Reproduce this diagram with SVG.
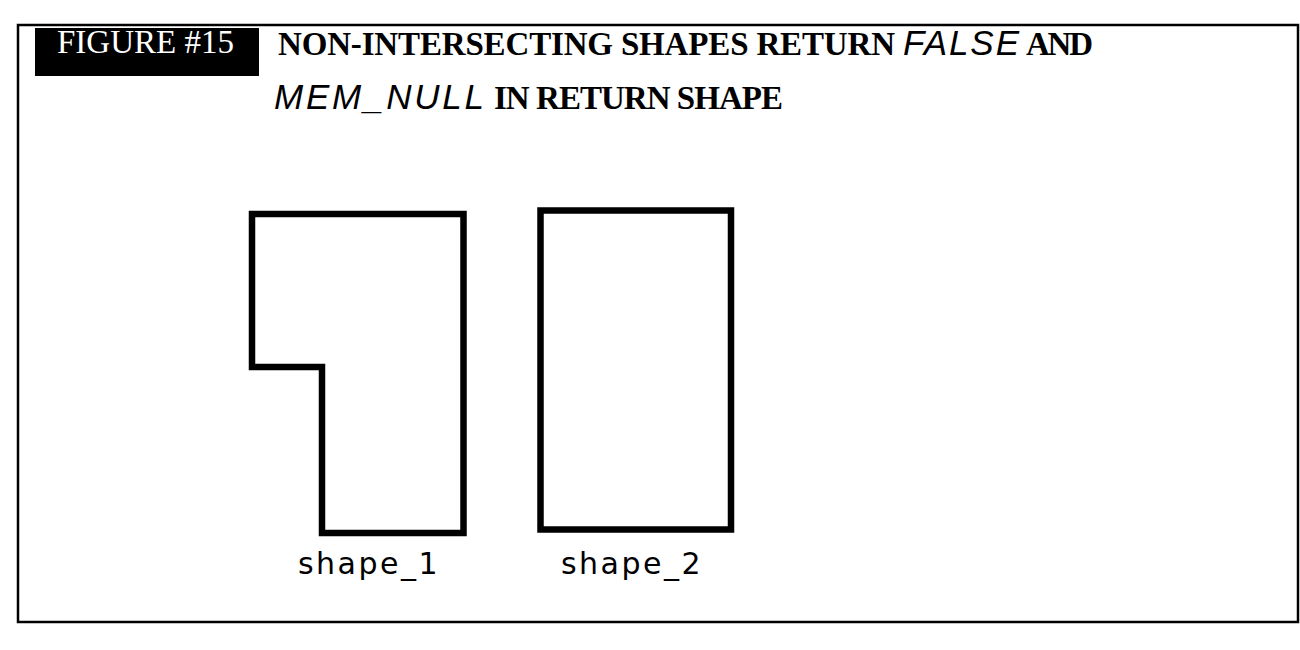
<svg xmlns="http://www.w3.org/2000/svg" width="1300" height="650" viewBox="0 0 1300 650">
<style>
.serif{font-family:"Liberation Serif","Times New Roman",serif;}
.bold{font-weight:bold;font-size:33px;fill:#000;}
.ital{font-family:"Liberation Sans",Arial,sans-serif;font-style:italic;font-size:35px;fill:#000;}
.lbl{font-family:"DejaVu Sans",sans-serif;font-size:30px;letter-spacing:2.5px;fill:#000;text-anchor:middle;}
.shp{fill:none;stroke:#000;stroke-width:6.5;stroke-linejoin:miter;}
</style>
<rect width="1300" height="650" fill="#fff"/>
<rect x="18" y="25" width="1280" height="597" fill="none" stroke="#000" stroke-width="2.5"/>
<g id="title">
<rect x="35" y="28" width="224" height="48" fill="#000"/>
<text x="57" y="53" class="serif" font-size="33" fill="#fff">FIGURE #15</text>
<text x="278" y="55" class="serif bold" textLength="617" lengthAdjust="spacing">NON-INTERSECTING SHAPES RETURN</text>
<text x="903" y="55" class="ital" textLength="116" lengthAdjust="spacing">FALSE</text>
<text x="1026" y="55" class="serif bold" textLength="67" lengthAdjust="spacing">AND</text>
<text x="274" y="109" class="ital" textLength="210" lengthAdjust="spacing">MEM_NULL</text>
<text x="494" y="109" class="serif bold" textLength="289" lengthAdjust="spacing">IN RETURN SHAPE</text>
</g>
<g id="shape_1">
<path class="shp" d="M252,214 H463.5 V533 H322 V367 H252 Z"/>
<text x="369" y="574" class="lbl">shape_1</text>
</g>
<g id="shape_2">
<rect class="shp" x="540.5" y="210.5" width="190.5" height="319"/>
<text x="632" y="574" class="lbl">shape_2</text>
</g>
<g id="connectors"></g>
</svg>
